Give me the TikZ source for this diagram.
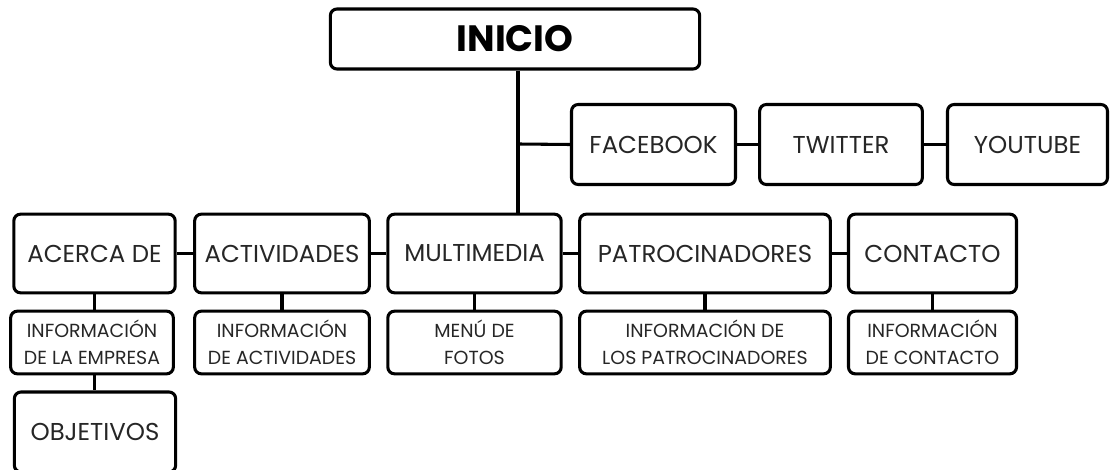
\documentclass[tikz,border=0pt]{standalone}
\usepackage{fontspec}
\setmainfont{Poppins}
\begin{document}
\begin{tikzpicture}[x=0.75pt,y=-0.75pt,
  bx/.style={draw=black, line width=2.3pt, rounded corners=5pt, fill=white, inner sep=0pt, align=center, text=black!85},
  big/.style={bx, font=\fontsize{18.3}{21}\selectfont},
  small/.style={bx, font=\fontsize{14.2}{20}\selectfont},
  link/.style={draw=black, line width=2.3pt}]
\useasboundingbox (0,0) rectangle (1111,470);
% top
\node[bx, minimum width=277pt, minimum height=45pt, font=\fontsize{27.5}{30}\selectfont\bfseries, text=black] (inicio) at (515,39) {INICIO};
\node[big, minimum width=123pt, minimum height=60pt] (fb) at (653.5,144.5) {FACEBOOK};
\node[big, minimum width=122pt, minimum height=60pt] (tw) at (841,144.5) {TWITTER};
\node[big, minimum width=120pt, minimum height=60pt] (yt) at (1027.5,144.5) {YOUTUBE};
% row 2
\node[big, minimum width=121pt, minimum height=59pt] (acerca) at (94.5,253.5) {ACERCA DE};
\node[big, minimum width=131pt, minimum height=59pt] (activ) at (282,253.5) {ACTIVIDADES};
\node[big, minimum width=130pt, minimum height=59pt] (multi) at (474.5,253.5) {MULTIMEDIA};
\node[big, minimum width=188pt, minimum height=59pt] (patro) at (705,253.5) {PATROCINADORES};
\node[big, minimum width=126pt, minimum height=59pt] (conta) at (932.5,253.5) {CONTACTO};
% row 3
\node[small, minimum width=122pt, minimum height=47pt] (iemp) at (92,342.5) {INFORMACIÓN\\DE LA EMPRESA};
\node[small, minimum width=131pt, minimum height=47pt] (iact) at (282,342.5) {INFORMACIÓN\\DE ACTIVIDADES};
\node[small, minimum width=130pt, minimum height=47pt] (menu) at (474.5,342.5) {MENÚ DE\\FOTOS};
\node[small, minimum width=188pt, minimum height=47pt] (ipat) at (705,342.5) {INFORMACIÓN DE\\LOS PATROCINADORES};
\node[small, minimum width=126pt, minimum height=47pt] (icon) at (932.5,342.5) {INFORMACIÓN\\DE CONTACTO};
% row 4
\node[big, minimum width=121pt, minimum height=60pt] (obj) at (95,432) {OBJETIVOS};
% connectors
\coordinate (t) at (518,144);
\path[link] (t |- inicio.south) -- (t |- multi.north);
\path[link] (t) -- (fb.west);
\path[link] (fb) -- (tw);
\path[link] (tw) -- (yt);
\path[link] (acerca) -- (activ);
\path[link] (activ) -- (multi);
\path[link] (multi) -- (patro);
\path[link] (patro) -- (conta);
\path[link] (acerca.south) -- (acerca.south |- iemp.north);
\path[link] (activ.south) -- (activ.south |- iact.north);
\path[link] (multi.south) -- (multi.south |- menu.north);
\path[link] (patro.south) -- (patro.south |- ipat.north);
\path[link] (conta.south) -- (conta.south |- icon.north);
\path[link] (iemp.south -| acerca.south) -- (acerca.south |- obj.north);
\end{tikzpicture}
\end{document}
